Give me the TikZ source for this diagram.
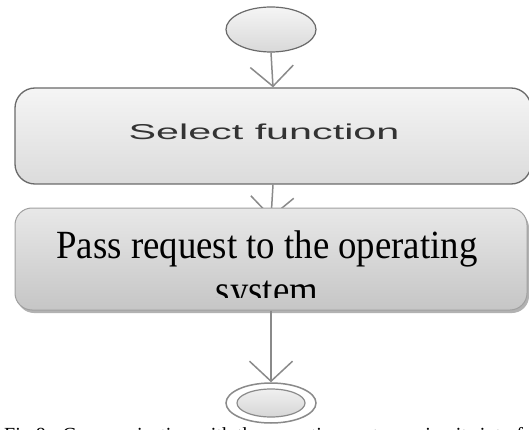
\documentclass[tikz,border=0pt]{standalone}
\usepackage{fontspec}
\setmainfont{Liberation Serif}
\newfontfamily\arialfont{Liberation Sans}
\usetikzlibrary{shapes.geometric,arrows.meta}
\definecolor{arrgray}{HTML}{8A8A8A}
\definecolor{bordone}{HTML}{6A6A6A}
\definecolor{bordtwo}{HTML}{A0A0A0}
\definecolor{txtgray}{HTML}{333333}
\tikzset{
  flow/.style={draw=arrgray, line width=1.5pt, -{Straight Barb[length=20pt,width=43pt,line width=1.5pt]}},
  startnode/.style={ellipse, draw=bordone, line width=1.2pt, top color=gray!8, bottom color=gray!30, minimum width=90pt, minimum height=45pt, inner sep=0pt},
  actone/.style={rectangle, rounded corners=20pt, draw=bordone, line width=1.3pt, top color=gray!8, bottom color=gray!28, minimum width=516pt, minimum height=96pt, inner sep=0pt},
  acttwo/.style={rectangle, rounded corners=17pt, draw=bordtwo, line width=1pt, top color=gray!18, bottom color=gray!45, minimum width=512pt, minimum height=102pt, inner sep=0pt},
  endouter/.style={ellipse, draw=arrgray, line width=1.5pt, fill=white, minimum width=90pt, minimum height=40pt, inner sep=0pt},
  endinner/.style={ellipse, draw=arrgray, line width=1.2pt, top color=gray!12, bottom color=gray!32, minimum width=68pt, minimum height=28pt, inner sep=0pt},
}
\begin{document}
\begin{tikzpicture}[x=1pt,y=-1pt]
\useasboundingbox (0,0) rectangle (529,430);
\clip (0,0) rectangle (529,430);
\fill[white] (0,0) rectangle (529,430);
% start
\node[startnode] (start) at (271,29.5) {};
% box 1
\node[actone] (select) at (273,136) {};
\node[anchor=base, text=txtgray, font=\arialfont\fontsize{21.5}{24}\selectfont] (selecttxt) at (264,140) {\scalebox{1.92}[1]{Select function}};
\draw[flow] (start.south) -- (select.north);
% arrow into box 2 (partly hidden)
\coordinate (hid) at (271,218);
\draw[flow] (select.south) -- (hid);
% box 2 with shadow
\fill[gray!60, rounded corners=17pt] (17,211) rectangle (529,313);
\node[acttwo] (pass) at (271,259) {};
\begin{scope}
\clip (15,208) rectangle (527,297);
\node[anchor=base, font=\fontsize{40}{45}\selectfont, align=center, inner sep=0pt] (passtxt) at (267,303) {\scalebox{0.92}[1]{Pass request to the operating}\\\scalebox{0.92}[1]{system}};
\end{scope}
% caption
\node[anchor=base west, font=\fontsize{20}{24}\selectfont, inner sep=0pt] (caption) at (4,441) {Fig.8 - Communication with the operating system using its interface};
% end
\node[endouter] (finish) at (271,403) {};
\node[endinner] (finishin) at (271,403) {};
\draw[flow] (pass.south) -- (finish.north);
\end{tikzpicture}
\end{document}
